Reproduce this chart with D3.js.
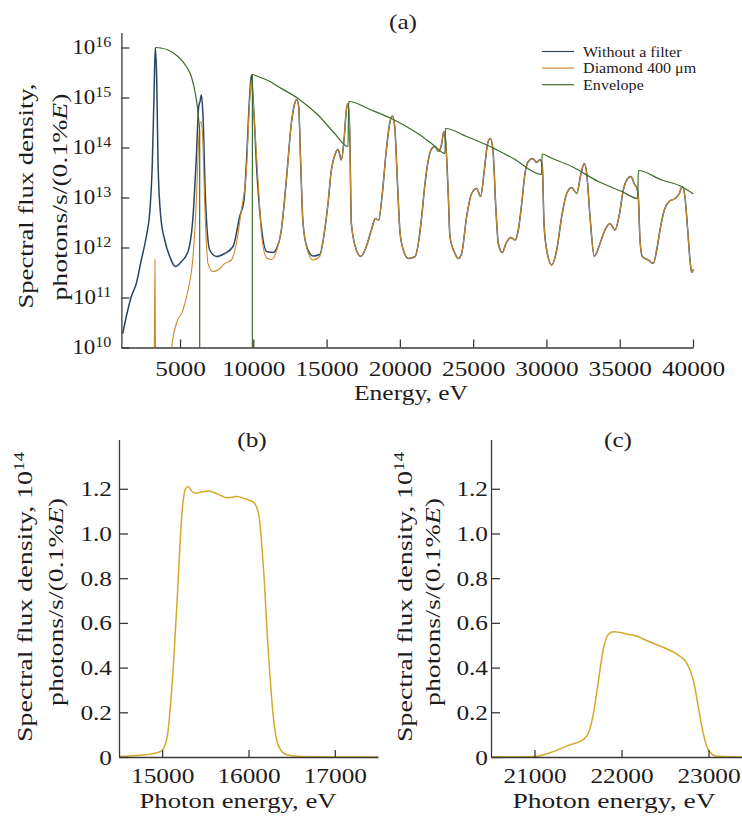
<!DOCTYPE html>
<html>
<head>
<meta charset="utf-8">
<script src="https://cdnjs.cloudflare.com/ajax/libs/d3/7.8.5/d3.min.js"></script>
<style>
  body { margin: 0; background: #fff; }
  svg { display: block; font-family: 'Liberation Serif', 'Times New Roman', serif; }
  text { fill: #1e1b1c; }
</style>
</head>
<body>
<svg id="chart" width="742" height="819"></svg>
<script>
// ---- panel (a): [energy eV, log10 of flux] ----
var xTicksA = [5000, 10000, 15000, 20000, 25000, 30000, 35000, 40000];
var yExponentsA = [10, 11, 12, 13, 14, 15, 16];

// below ~15 keV the two spectra differ
var withoutFilterLow = [
    [1091, 10.28], [1336, 10.62], [1677, 11.02], [2018, 11.28], [2359, 11.75], [2700, 12.22],
    [2927, 12.68], [3109, 13.68], [3223, 15.02], [3313, 16.0], [3410, 15.35], [3500, 13.68],
    [3683, 12.62], [3956, 12.15], [4297, 11.82], [4680, 11.62], [5091, 11.72], [5546, 11.92],
    [5887, 12.62], [6115, 13.82], [6275, 14.82], [6365, 14.92], [6456, 15.05], [6570, 14.62],
    [6730, 13.02], [7026, 11.95], [7480, 11.82], [8049, 11.88], [8617, 12.02], [9072, 12.62],
    [9367, 12.95], [9527, 13.68], [9754, 15.05], [9868, 15.45], [9981, 15.0], [10277, 13.35],
    [10573, 12.35], [10914, 11.92], [11346, 11.90], [11572, 11.97], [11914, 12.35], [12255, 13.35],
    [12596, 14.48], [12823, 14.88], [12960, 14.96], [13096, 14.82], [13233, 13.68], [13392, 12.48],
    [13687, 11.98], [14075, 11.83], [14530, 11.86], [14871, 12.35]
];
var diamondLow = [
    [3240, 9.5], [3290, 11.76], [3335, 9.5], [3400, 9.0], [4300, 9.0], [4410, 9.95],
    [4750, 10.48], [5205, 10.75], [5546, 11.15], [5887, 11.82], [6115, 12.95], [6275, 14.15],
    [6410, 14.52], [6530, 14.3], [6684, 12.88], [6910, 11.68], [7251, 11.52], [7592, 11.55],
    [8049, 11.68], [8504, 11.75], [8845, 12.08], [9186, 12.75], [9527, 13.55], [9754, 14.95],
    [9868, 15.35], [9990, 14.9], [10390, 13.02], [10573, 12.22], [10914, 11.79], [11250, 11.76],
    [11572, 11.92], [11914, 12.35], [12255, 13.35], [12596, 14.48], [12823, 14.88], [12960, 14.96],
    [13096, 14.82], [13233, 13.68], [13392, 12.48], [13687, 11.95], [14075, 11.75], [14530, 11.82],
    [14871, 12.35]
];
// above ~15 keV both curves lie on top of each other
var bothHigh = [
    [15098, 12.88], [15325, 13.55], [15598, 13.88], [15780, 13.96], [16008, 13.75], [16190, 14.15],
    [16349, 14.75], [16463, 14.88], [16576, 14.35], [16690, 12.48], [17031, 11.95], [17327, 11.82],
    [17714, 12.02], [18055, 12.35], [18328, 12.58], [18555, 12.55], [18782, 13.02], [19077, 13.95],
    [19304, 14.48], [19487, 14.63], [19646, 14.43], [19827, 13.35], [20010, 12.3], [20237, 11.95],
    [20578, 11.78], [21034, 11.82], [21261, 12.08], [21490, 12.62], [21716, 13.28], [21944, 13.75],
    [22175, 13.98], [22400, 14.02], [22626, 13.92], [22858, 14.08], [22995, 14.32], [23100, 14.2],
    [23307, 13.02], [23416, 12.22], [23758, 11.88], [23990, 11.78], [24215, 11.88], [24556, 12.62],
    [24897, 13.08], [25238, 13.18], [25511, 13.02], [25763, 13.55], [25988, 14.08], [26172, 14.18],
    [26350, 13.95], [26555, 12.75], [26718, 12.08], [26991, 11.90], [27242, 12.08], [27563, 12.20],
    [27857, 12.15], [28082, 12.35], [28314, 12.88], [28538, 13.48], [28764, 13.72], [29064, 13.78],
    [29337, 13.70], [29562, 13.76], [29719, 13.62], [29835, 12.48], [30018, 11.95], [30360, 11.65],
    [30701, 11.95], [31042, 12.62], [31383, 13.08], [31724, 13.20], [32065, 13.08], [32359, 13.48],
    [32585, 13.68], [32748, 13.48], [32973, 12.62], [33266, 11.82], [33655, 12.08], [33996, 12.35],
    [34337, 12.48], [34678, 12.35], [34951, 12.62], [35245, 13.15], [35545, 13.38], [35770, 13.42],
    [35995, 13.27], [36159, 13.2], [36268, 13.02], [36384, 12.15], [36541, 11.82], [36950, 11.75],
    [37292, 11.68], [37524, 11.95], [37749, 12.35], [38043, 12.75], [38363, 12.92], [38772, 12.98],
    [39066, 13.08], [39270, 13.22], [39455, 13.0], [39639, 12.35], [39796, 11.75], [39912, 11.50],
    [40023, 11.56]
];
var envelope = [
    [3313, 16.0], [3700, 15.99], [4181, 15.95], [4864, 15.82], [5432, 15.62], [5773, 15.42],
    [6046, 15.08], [6183, 14.82], [6297, 14.48], [6342, 14.3], [6343, 9], [9935, 9],
    [9936, 15.46], [10322, 15.42], [11141, 15.32], [11687, 15.22], [13051, 14.98], [14416, 14.65],
    [15553, 14.28], [16463, 14.02], [16508, 14.92], [18055, 14.75], [19420, 14.58], [20557, 14.40],
    [21374, 14.25], [22283, 14.05], [23080, 13.88], [23103, 14.38], [24560, 14.22], [26150, 14.02],
    [27741, 13.78], [29678, 13.46], [29700, 13.87], [30246, 13.80], [31724, 13.62], [33542, 13.32],
    [35139, 13.12], [36231, 12.98], [36268, 13.54], [37860, 13.35], [39225, 13.22], [40023, 13.07]
];
var legendNames = ['Without a filter', 'Diamond 400 \u03bcm', 'Envelope'];

// ---- panels (b) and (c): [photon energy eV, flux in 1e14 units] ----
var yTicksBC = [0, 0.2, 0.4, 0.6, 0.8, 1.0, 1.2];
var xTicksB = [15000, 16000, 17000];
var xTicksC = [21000, 22000, 23000];
var bandB = [
    [14500, 0.002], [14800, 0.01], [14950, 0.02], [15000, 0.03], [15058, 0.09], [15116, 0.33],
    [15173, 0.70], [15231, 1.10], [15270, 1.20], [15300, 1.21], [15340, 1.19], [15385, 1.18],
    [15450, 1.185], [15540, 1.19], [15650, 1.175], [15750, 1.16], [15865, 1.165], [15960, 1.155],
    [16058, 1.14], [16116, 1.09], [16174, 0.84], [16230, 0.47], [16290, 0.17], [16347, 0.05],
    [16443, 0.01], [16600, 0.002], [17000, 0.0], [17500, 0.0]
];
var bandC = [
    [20500, 0.0], [21000, 0.002], [21184, 0.02], [21375, 0.05], [21566, 0.08], [21623, 0.11],
    [21680, 0.2], [21738, 0.35], [21795, 0.49], [21853, 0.55], [21910, 0.56], [22063, 0.55],
    [22178, 0.54], [22293, 0.52], [22484, 0.49], [22637, 0.46], [22751, 0.42], [22828, 0.34],
    [22885, 0.22], [22943, 0.1], [23000, 0.03], [23096, 0.003], [23400, 0.0], [23500, 0.0]
];

(function () {
    'use strict';

    var svg = d3.select('#chart');
    var axisColor = '#3a3a3a';
    var colors = { navy: '#2a4562', diamond: '#c98a2e', envelope: '#3f6b2c', band: '#d6a82a' };

    function styleAxis(g, fontSize) {
        g.attr('font-family', null).attr('font-size', fontSize);
        g.selectAll('path, line').attr('stroke', axisColor).attr('stroke-width', 1.3);
        g.selectAll('text').attr('fill', '#1e1b1c');
    }

    // label made of tspans; parts = [[text, italic?, super?], ...]
    function addLabel(parent, x, y, parts, len, rotate) {
        var t = parent.append('text')
            .attr('text-anchor', 'middle')
            .attr('font-size', 22)
            .attr('data-len', len)
            .attr('transform', 'translate(' + x + ',' + y + ')' + (rotate ? ' rotate(-90)' : ''));
        parts.forEach(function (p) {
            var s = t.append('tspan').text(p[0]);
            if (p[1]) s.attr('font-style', 'italic');
            if (p[2]) s.attr('font-size', 15).attr('dy', -8);
        });
        return t;
    }

    // ================= panel (a) =================
    var fa = { left: 121.4, right: 693, top: 32.5, bottom: 347.5 };
    var xa = d3.scaleLinear().domain([1000, 40000]).range([fa.left, fa.right]);
    var ya = d3.scaleLog().domain([1e10, Math.pow(10, 16.3)]).range([fa.bottom, fa.top]);

    svg.append('clipPath').attr('id', 'clipA')
        .append('rect')
        .attr('x', fa.left).attr('y', fa.top - 5)
        .attr('width', fa.right - fa.left + 2).attr('height', fa.bottom - fa.top + 5);

    var lineA = d3.line()
        .x(function (d) { return xa(d[0]); })
        .y(function (d) { return ya(Math.pow(10, d[1])); })
        .curve(d3.curveMonotoneX);

    var plotA = svg.append('g').attr('clip-path', 'url(#clipA)');
    plotA.append('path').datum(withoutFilterLow.concat(bothHigh))
        .attr('d', lineA).attr('fill', 'none')
        .attr('stroke', colors.navy).attr('stroke-width', 1.5);
    plotA.append('path').datum(diamondLow.concat(bothHigh))
        .attr('d', lineA).attr('fill', 'none')
        .attr('stroke', colors.diamond).attr('stroke-width', 1.1);
    plotA.append('path').datum(envelope)
        .attr('d', lineA).attr('fill', 'none')
        .attr('stroke', colors.envelope).attr('stroke-width', 1.2);

    var gxa = svg.append('g')
        .attr('transform', 'translate(0,' + fa.bottom + ')')
        .call(d3.axisBottom(xa).tickValues(xTicksA).tickFormat(d3.format('d'))
            .tickSizeInner(-8).tickSizeOuter(0).tickPadding(13));
    styleAxis(gxa, 22);

    var gya = svg.append('g')
        .attr('transform', 'translate(' + fa.left + ',0)')
        .call(d3.axisLeft(ya).tickValues(yExponentsA.map(function (e) { return Math.pow(10, e); }))
            .tickSizeInner(-8).tickSizeOuter(0).tickPadding(10));
    styleAxis(gya, 20);
    gya.selectAll('.tick text').each(function (d, i) {
        var t = d3.select(this).text('');
        t.append('tspan').text('10');
        t.append('tspan').attr('font-size', 14).attr('dy', -7).text(yExponentsA[i]);
    });

    svg.append('text').attr('x', 403).attr('y', 29).attr('text-anchor', 'middle')
        .attr('font-size', 22).text('(a)');

    addLabel(svg, 411, 400, [['Energy, eV']], 114, false);
    addLabel(svg, 33, 196, [['Spectral flux density,']], 225, true);
    addLabel(svg, 67, 197, [['photons/s/(0.1%'], ['E', true], [')']], 207, true);

    // legend
    var legendColors = [colors.navy, colors.diamond, colors.envelope];
    var legend = svg.append('g').attr('transform', 'translate(542,51.5)');
    legendNames.forEach(function (name, i) {
        var row = legend.append('g').attr('transform', 'translate(0,' + (i * 16.6) + ')');
        row.append('line').attr('x1', 0).attr('x2', 32)
            .attr('stroke', legendColors[i]).attr('stroke-width', 1.2);
        row.append('text').attr('x', 41).attr('y', 5).attr('font-size', 14).text(name);
    });

    // ================= panels (b), (c) =================
    function drawBand(o) {
        var x = d3.scaleLinear().domain(o.xDomain).range([o.left, o.right]);
        var y = d3.scaleLinear().domain([0, 1.42]).range([757, 439.6]);

        var line = d3.line()
            .x(function (d) { return x(d[0]); })
            .y(function (d) { return y(d[1]); })
            .curve(d3.curveMonotoneX);

        svg.append('path').datum(o.data)
            .attr('d', line).attr('fill', 'none')
            .attr('stroke', colors.band).attr('stroke-width', 1.5);

        var gx = svg.append('g')
            .attr('transform', 'translate(0,757)')
            .call(d3.axisBottom(x).tickValues(o.xTicks).tickFormat(d3.format('d'))
                .tickSizeInner(-7).tickSizeOuter(0).tickPadding(10));
        styleAxis(gx, 22);

        var gy = svg.append('g')
            .attr('transform', 'translate(' + o.left + ',0)')
            .call(d3.axisLeft(y).tickValues(yTicksBC)
                .tickFormat(function (d) { return d === 0 ? '0' : d3.format('.1f')(d); })
                .tickSizeInner(-9).tickSizeOuter(0).tickPadding(o.pad));
        styleAxis(gy, 22);

        svg.append('text').attr('x', o.titleX).attr('y', 447).attr('text-anchor', 'middle')
            .attr('font-size', 22).text(o.title);

        addLabel(svg, o.xLabelX, 808, [['Photon energy, eV']], o.xLabelLen, false);
        addLabel(svg, o.lab1X, 597, [['Spectral flux density, 10'], ['14', false, true]], 290, true);
        addLabel(svg, o.lab2X, 602, [['photons/s/(0.1%'], ['E', true], [')']], 208, true);
    }

    drawBand({ data: bandB, xDomain: [14500, 17500], left: 119, right: 378, xTicks: xTicksB,
        pad: 7, title: '(b)', titleX: 252, xLabelX: 238, xLabelLen: 197, lab1X: 32, lab2X: 63 });
    drawBand({ data: bandC, xDomain: [20500, 23500], left: 491, right: 752, xTicks: xTicksC,
        pad: 3, title: '(c)', titleX: 618, xLabelX: 614, xLabelLen: 203, lab1X: 412, lab2X: 440 });

    // the printed serif is wider than Times: stretch every text along its baseline
    svg.selectAll('text').each(function () {
        var t = d3.select(this);
        var len = +t.attr('data-len') || this.getComputedTextLength() * 1.15;
        t.attr('textLength', len).attr('lengthAdjust', 'spacingAndGlyphs');
    });
}());
</script>
</body>
</html>
